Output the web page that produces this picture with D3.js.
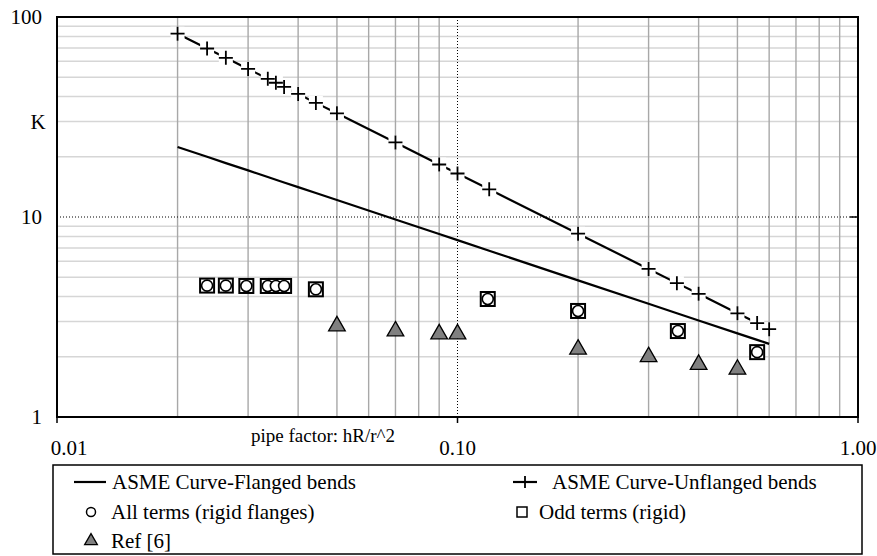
<!DOCTYPE html>
<html>
<head>
<meta charset="utf-8">
<script src="https://cdn.jsdelivr.net/npm/d3@7/dist/d3.min.js"></script>
<style>
  body { margin: 0; background: #fff; }
</style>
</head>
<body>
<svg id="chart"></svg>
<script>
// pipe factor h values used by both ASME curves
var asmeH = [0.02, 0.0237, 0.0264, 0.03, 0.0336, 0.0352, 0.0369, 0.04, 0.0443, 0.05, 0.07,
    0.09, 0.1, 0.12, 0.2, 0.3, 0.353, 0.4, 0.5, 0.56, 0.6];
var flangedK = [22.4, 20.0, 18.6, 17.1, 15.85, 15.36, 14.89, 14.11, 13.18, 12.16, 9.71,
    8.22, 7.66, 6.78, 4.82, 3.68, 3.30, 3.04, 2.62, 2.43, 2.32];
var unflangedK = [82.5, 69.6, 62.5, 55.0, 49.1, 46.9, 44.7, 41.25, 37.2, 33.0, 23.6,
    18.3, 16.5, 13.75, 8.25, 5.5, 4.67, 4.13, 3.3, 2.95, 2.75];

var termsH = [0.0237, 0.0264, 0.0297, 0.0336, 0.0352, 0.0369, 0.0443, 0.119, 0.2, 0.355, 0.56];
var allTermsK = [4.54, 4.54, 4.52, 4.52, 4.52, 4.52, 4.35, 3.89, 3.39, 2.69, 2.11];
var oddTermsK = [4.54, 4.54, 4.52, 4.52, 4.52, 4.52, 4.35, 3.89, 3.39, 2.69, 2.11];

var refH = [0.05, 0.07, 0.09, 0.1, 0.2, 0.3, 0.4, 0.5];
var refK = [2.85, 2.69, 2.60, 2.60, 2.18, 2.0, 1.83, 1.73];

var xTicks = [0.01, 0.1, 1];
var xTickLabels = ["0.01", "0.10", "1.00"];
var yTicks = [1, 10, 100];
var yTickLabels = ["1", "10", "100"];

var FONT = "'Liberation Serif', Tinos, 'DejaVu Serif', 'Times New Roman', serif";

var W = 877, H = 556;
var margin = {left: 57, right: 19, top: 17, bottom: 139};
var width = W - margin.left - margin.right;
var height = H - margin.top - margin.bottom;

var svg = d3.select("#chart").attr("width", W).attr("height", H)
    .attr("font-family", FONT);
var g = svg.append("g")
    .attr("transform", "translate(" + [margin.left, margin.top] + ")");

var x = d3.scaleLog().domain([0.01, 1]).range([0, width]);
var y = d3.scaleLog().domain([1, 100]).range([height, 0]);

// minor gridlines
var minorX = [], minorY = [];
[0.01, 0.1].forEach(function (d) {
    for (var i = 2; i <= 9; i++) minorX.push(d * i);
});
[1, 10].forEach(function (d) {
    for (var i = 2; i <= 9; i++) minorY.push(d * i);
});

g.selectAll(".hgrid").data(minorY).enter().append("line")
    .attr("x1", 0).attr("x2", width)
    .attr("y1", function (d) { return y(d); })
    .attr("y2", function (d) { return y(d); })
    .attr("stroke", "#d6d6d6").attr("stroke-width", 1.5);

g.selectAll(".vgrid").data(minorX).enter().append("line")
    .attr("y1", 0).attr("y2", height)
    .attr("x1", function (d) { return x(d); })
    .attr("x2", function (d) { return x(d); })
    .attr("stroke", "#a8a8a8").attr("stroke-width", 1.4);

// major gridlines, dotted
g.append("line")
    .attr("x1", 0).attr("x2", width).attr("y1", y(10)).attr("y2", y(10))
    .attr("stroke", "#000").attr("stroke-width", 1).attr("stroke-dasharray", "1,2");
g.append("line")
    .attr("y1", 0).attr("y2", height).attr("x1", x(0.1)).attr("x2", x(0.1))
    .attr("stroke", "#000").attr("stroke-width", 1).attr("stroke-dasharray", "1,2");

// plot border
g.append("rect")
    .attr("width", width).attr("height", height)
    .attr("fill", "none").attr("stroke", "#000").attr("stroke-width", 2);

// ticks
g.selectAll(".xtick").data(xTicks).enter().append("line")
    .attr("x1", function (d) { return x(d); })
    .attr("x2", function (d) { return x(d); })
    .attr("y1", height).attr("y2", height + 6)
    .attr("stroke", "#000").attr("stroke-width", 1.5);
g.append("line")
    .attr("x1", width - 8).attr("x2", width).attr("y1", y(10)).attr("y2", y(10))
    .attr("stroke", "#000").attr("stroke-width", 1.5);

// tick labels
g.selectAll(".xlab").data(xTicks).enter().append("text")
    .attr("x", function (d, i) { return x(d) + (i === 0 ? 12 : 0); })
    .attr("y", height + 38)
    .attr("text-anchor", "middle")
    .style("font-size", "21px")
    .text(function (d, i) { return xTickLabels[i]; });

g.selectAll(".ylab").data(yTicks).enter().append("text")
    .attr("x", -15)
    .attr("y", function (d) { return y(d) + 7; })
    .attr("text-anchor", "end")
    .style("font-size", "21px")
    .text(function (d, i) { return yTickLabels[i]; });

g.append("text")
    .attr("x", -19).attr("y", y(30) + 7)
    .attr("text-anchor", "middle")
    .style("font-size", "21px")
    .text("K");

g.append("text")
    .attr("x", 266).attr("y", height + 25)
    .attr("text-anchor", "middle")
    .style("font-size", "19px")
    .text("pipe factor: hR/r^2");

// ASME flanged curve
var line = d3.line()
    .x(function (d) { return x(d[0]); })
    .y(function (d) { return y(d[1]); });

g.append("path")
    .datum(d3.zip(asmeH, flangedK))
    .attr("d", line)
    .attr("fill", "none").attr("stroke", "#000").attr("stroke-width", 2.2);

// ASME unflanged curve with + markers on white pads
var unfl = d3.zip(asmeH, unflangedK);
g.append("path")
    .datum(unfl)
    .attr("d", line)
    .attr("fill", "none").attr("stroke", "#000").attr("stroke-width", 2.2);

g.selectAll(".pad").data(unfl).enter().append("rect")
    .attr("x", function (d) { return x(d[0]) - 7; })
    .attr("y", function (d) { return y(d[1]) - 7; })
    .attr("width", 14).attr("height", 14)
    .attr("fill", "#fff");

function plus(sel, s) {
    sel.append("path")
        .attr("d", "M" + (-s) + ",0H" + s + "M0," + (-s) + "V" + s)
        .attr("stroke", "#000").attr("stroke-width", 1.8).attr("fill", "none");
}
g.selectAll(".plus").data(unfl).enter().append("g")
    .attr("transform", function (d) { return "translate(" + [x(d[0]), y(d[1])] + ")"; })
    .call(plus, 7);

// odd terms squares, all terms circles on top
g.selectAll(".sq").data(d3.zip(termsH, oddTermsK)).enter().append("rect")
    .attr("x", function (d) { return x(d[0]) - 7; })
    .attr("y", function (d) { return y(d[1]) - 7; })
    .attr("width", 14).attr("height", 14)
    .attr("fill", "#fff").attr("stroke", "#000").attr("stroke-width", 2);

g.selectAll(".ci").data(d3.zip(termsH, allTermsK)).enter().append("circle")
    .attr("cx", function (d) { return x(d[0]); })
    .attr("cy", function (d) { return y(d[1]); })
    .attr("r", 5.5)
    .attr("fill", "#fff").attr("stroke", "#000").attr("stroke-width", 1.6);

// Ref [6] triangles
var tri = d3.symbol().type(d3.symbolTriangle).size(120);
g.selectAll(".tri").data(d3.zip(refH, refK)).enter().append("path")
    .attr("d", tri)
    .attr("transform", function (d) { return "translate(" + [x(d[0]), y(d[1])] + ")"; })
    .attr("fill", "#808080").attr("stroke", "#000").attr("stroke-width", 1.3);

// legend
var lg = svg.append("g");
lg.append("rect")
    .attr("x", 53).attr("y", 465).attr("width", 809).attr("height", 89)
    .attr("fill", "#fff").attr("stroke", "#000").attr("stroke-width", 1.5);

lg.append("line").attr("x1", 74).attr("x2", 106).attr("y1", 482).attr("y2", 482)
    .attr("stroke", "#000").attr("stroke-width", 2.2);
lg.append("line").attr("x1", 513).attr("x2", 537).attr("y1", 482).attr("y2", 482)
    .attr("stroke", "#000").attr("stroke-width", 2.2);
lg.append("g").attr("transform", "translate(525,482)").call(plus, 6);
lg.append("circle").attr("cx", 91).attr("cy", 512).attr("r", 4.5)
    .attr("fill", "#fff").attr("stroke", "#000").attr("stroke-width", 1.5);
lg.append("rect").attr("x", 517).attr("y", 507).attr("width", 10).attr("height", 10)
    .attr("fill", "#fff").attr("stroke", "#000").attr("stroke-width", 1.5);
lg.append("path").attr("d", d3.symbol().type(d3.symbolTriangle).size(70))
    .attr("transform", "translate(91,541)")
    .attr("fill", "#808080").attr("stroke", "#000").attr("stroke-width", 1.3);

var legendText = [
    [112, 489, "ASME Curve-Flanged bends"],
    [552, 489, "ASME Curve-Unflanged bends"],
    [111, 519, "All terms (rigid flanges)"],
    [539, 519, "Odd terms (rigid)"],
    [111, 548, "Ref [6]"]
];
lg.selectAll(".lt").data(legendText).enter().append("text")
    .attr("x", function (d) { return d[0]; })
    .attr("y", function (d) { return d[1]; })
    .style("font-size", "21px")
    .text(function (d) { return d[2]; });
</script>
</body>
</html>
